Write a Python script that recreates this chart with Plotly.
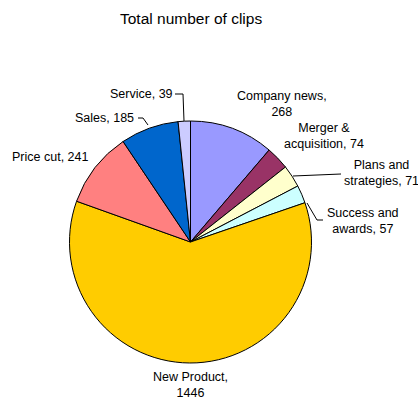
import plotly.graph_objects as go

categories = ["Company news", "Merger & acquisition", "Plans and strategies", "Success and awards",
              "New Product", "Price cut", "Sales", "Service"]
values = [268, 74, 71, 57, 1446, 241, 185, 39]
colors = ["#9999FF", "#993366", "#FFFFCC", "#CCFFFF", "#FFCC00", "#FF8080", "#0066CC", "#CCCCFF"]
label_texts = ["Company news,<br>268", "Merger &<br>acquisition, 74", "Plans and<br>strategies, 71",
               "Success and<br>awards, 57", "New Product,<br>1446", "Price cut, 241", "Sales, 185", "Service, 39"]

W, H = 418, 399
# label centres in pixels
label_pos = [(282, 104), (324, 136), (381, 173), (363, 221), (190, 385), (50, 157), (104, 118), (141, 94)]

fig = go.Figure(go.Pie(
    labels=categories, values=values, sort=False, direction="clockwise", rotation=0,
    marker=dict(colors=colors, line=dict(color="black", width=1)),
    textinfo="none", hoverinfo="label+value", showlegend=False,
    domain=dict(x=[69 / W, 312 / W], y=[1 - 363 / H, 1 - 121 / H]),
))

def px(x): return x / W
def py(y): return 1 - y / H

annotations = [dict(text="Total number of clips", x=px(191), y=py(18), xref="paper", yref="paper",
                    xanchor="center", yanchor="middle", showarrow=False,
                    font=dict(size=15.5, color="black", family="Liberation Sans, Arial"))]
for t, (x, y) in zip(label_texts, label_pos):
    annotations.append(dict(text=t, x=px(x), y=py(y), xref="paper", yref="paper", showarrow=False,
                            xanchor="center", yanchor="middle", align="center",
                            font=dict(size=12.5, color="black", family="Liberation Sans, Arial")))

leaders = [
    [(175, 94), (183, 94), (184, 121)],       # Service
    [(138, 118), (143, 118), (148, 125)],     # Sales
    [(293, 176), (341, 174)],                 # Plans
    [(307, 203), (317, 220), (323, 220)],     # Success
]
shapes = []
for pts in leaders:
    path = "M " + " L ".join(f"{px(x)} {py(y)}" for x, y in pts)
    shapes.append(dict(type="path", path=path, xref="paper", yref="paper",
                       line=dict(color="black", width=1)))

fig.update_layout(width=W, height=H, margin=dict(l=0, r=0, t=0, b=0),
                  paper_bgcolor="white", plot_bgcolor="white",
                  annotations=annotations, shapes=shapes)
fig.write_html("out.html")
